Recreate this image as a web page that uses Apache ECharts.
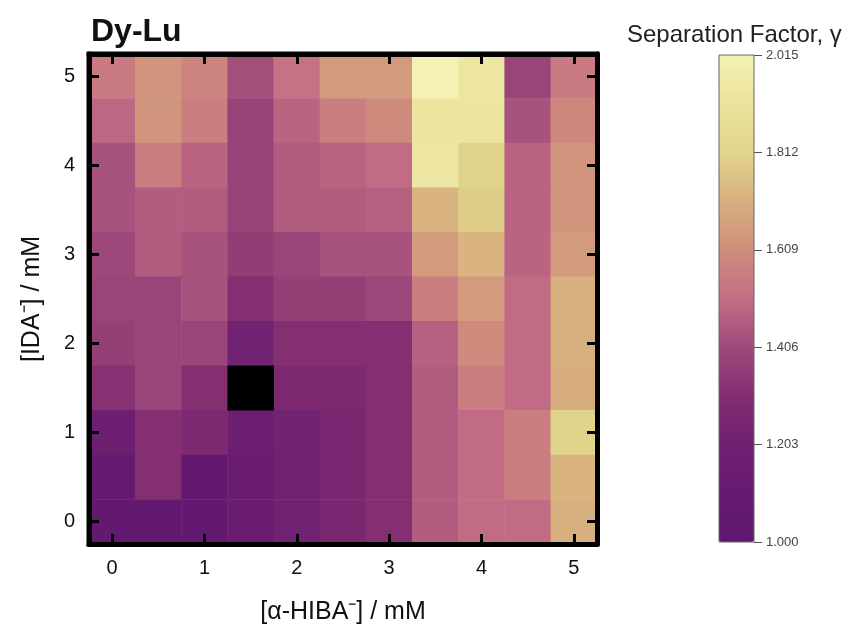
<!DOCTYPE html>
<html>
<head>
<meta charset="utf-8">
<script src="https://cdn.jsdelivr.net/npm/echarts@6/dist/echarts.min.js"></script>
<style>html,body{margin:0;padding:0;background:#fff;}#c{width:853px;height:634px;}</style>
</head>
<body>
<div id="c"></div>
<script>
// [α-HIBA-] concentrations (columns) and [IDA-] concentrations (rows), mM
const xCats = ['0','0.5','1','1.5','2','2.5','3','3.5','4','4.5','5'];
const yCats = ['0','0.5','1','1.5','2','2.5','3','3.5','4','4.5','5'];
// Separation factor rows, listed from [IDA-] = 5 (top) down to 0 (bottom); null = no value (black cell)
const row5_0 = [1.55, 1.63, 1.58, 1.42, 1.52, 1.65, 1.65, 2.01, 1.94, 1.39, 1.55];
const row4_5 = [1.49, 1.63, 1.56, 1.38, 1.48, 1.56, 1.60, 1.93, 1.93, 1.43, 1.59];
const row4_0 = [1.43, 1.56, 1.48, 1.38, 1.46, 1.48, 1.50, 1.94, 1.81, 1.48, 1.63];
const row3_5 = [1.43, 1.46, 1.46, 1.38, 1.46, 1.46, 1.47, 1.72, 1.79, 1.48, 1.63];
const row3_0 = [1.40, 1.46, 1.43, 1.36, 1.39, 1.43, 1.43, 1.65, 1.72, 1.48, 1.65];
const row2_5 = [1.39, 1.39, 1.43, 1.31, 1.37, 1.37, 1.40, 1.56, 1.65, 1.50, 1.71];
const row2_0 = [1.37, 1.39, 1.39, 1.22, 1.31, 1.31, 1.31, 1.47, 1.60, 1.50, 1.71];
const row1_5 = [1.32, 1.39, 1.31, null, 1.27, 1.27, 1.31, 1.46, 1.56, 1.50, 1.70];
const row1_0 = [1.18, 1.31, 1.27, 1.17, 1.22, 1.26, 1.31, 1.46, 1.50, 1.56, 1.81];
const row0_5 = [1.09, 1.31, 1.05, 1.14, 1.22, 1.26, 1.31, 1.46, 1.50, 1.56, 1.72];
const row0_0 = [1.06, 1.06, 1.05, 1.14, 1.22, 1.26, 1.31, 1.46, 1.50, 1.50, 1.71];
// Colour bar scale
const scaleMin = 1.000;
const scaleMax = 2.015;
const scaleStep = 0.203;
const palette = ['#5f1870','#671a71','#6f2072','#822d72','#9e4a7a','#c46e85',
                 '#cf8d7b','#d8b07f','#e0d48b','#eae29c','#f5f2b5'];

const rowsTopDown = [row5_0,row4_5,row4_0,row3_5,row3_0,row2_5,row2_0,row1_5,row1_0,row0_5,row0_0];
const data = [];
const missing = [];
rowsTopDown.forEach((row, r) => {
  const yi = yCats.length - 1 - r;
  row.forEach((v, xi) => {
    if (v === null) missing.push([xi, yi, 0]);
    else data.push([xi, yi, v]);
  });
});

const FONT = 'Liberation Sans, Arial, sans-serif';
const everyOther = (i) => i % 2 === 0;
const tickStyle = {show:true, inside:true, alignWithLabel:true, interval: everyOther, length:10, lineStyle:{color:'#000', width:3}};
const lineStyle = {show:true, lineStyle:{color:'#000', width:5}};

const chart = echarts.init(document.getElementById('c'), null, {renderer:'canvas'});
chart.setOption({
  animation:false,
  backgroundColor:'#fff',
  title:[
    {text:'Dy-Lu', left:86, top:11, textStyle:{fontFamily:FONT, fontSize:32, fontWeight:'bold', color:'#111'}},
    {text:'Separation Factor, γ', left:622, top:18, textStyle:{fontFamily:FONT, fontSize:24, fontWeight:'normal', color:'#222'}}
  ],
  grid:[
    {left:89, top:54, width:508, height:490, show:true, borderColor:'#000', borderWidth:5, backgroundColor:'transparent'},
    {left:719, top:55, width:35, height:487, show:true, borderColor:'#666', borderWidth:1, backgroundColor:'transparent', z:10}
  ],
  xAxis:[
    {type:'category', gridIndex:0, data:xCats, position:'bottom', z:10,
     name:'[α-HIBA⁻] / mM', nameLocation:'middle', nameGap:56,
     nameTextStyle:{fontFamily:FONT, fontSize:25, color:'#111'},
     axisLine:lineStyle, axisTick:tickStyle,
     axisLabel:{interval:everyOther, margin:14, fontFamily:FONT, fontSize:20, color:'#111'},
     splitLine:{show:false}},
    {type:'category', gridIndex:0, data:xCats, position:'top', z:10,
     axisLine:lineStyle, axisTick:tickStyle, axisLabel:{show:false}, splitLine:{show:false}},
    {type:'category', gridIndex:1, data:['γ'], show:false}
  ],
  yAxis:[
    {type:'category', gridIndex:0, data:yCats, position:'left', z:10,
     name:'[IDA⁻] / mM', nameLocation:'middle', nameGap:44, nameRotate:90,
     nameTextStyle:{fontFamily:FONT, fontSize:25, color:'#111'},
     axisLine:lineStyle, axisTick:tickStyle,
     axisLabel:{interval:everyOther, margin:14, fontFamily:FONT, fontSize:20, color:'#111'},
     splitLine:{show:false}},
    {type:'category', gridIndex:0, data:yCats, position:'right', z:10,
     axisLine:lineStyle, axisTick:tickStyle, axisLabel:{show:false}, splitLine:{show:false}},
    {type:'value', gridIndex:1, position:'right', min:0, max:+(scaleMax-scaleMin).toFixed(3), interval:scaleStep, z:10,
     axisLine:{show:false}, splitLine:{show:false},
     axisTick:{show:true, inside:false, length:8, lineStyle:{color:'#555', width:1}},
     axisLabel:{margin:12, fontFamily:FONT, fontSize:13, color:'#444', formatter:(v)=>(v+scaleMin).toFixed(3)}}
  ],
  visualMap:{
    type:'continuous', min:scaleMin, max:scaleMax, seriesIndex:0, calculable:false,
    left:719, top:55, itemWidth:35, itemHeight:487, padding:0, text:['',''], showLabel:false,
    inRange:{color:palette}
  },
  series:[
    {type:'heatmap', xAxisIndex:0, yAxisIndex:0, data:data, itemStyle:{borderWidth:0},
     emphasis:{disabled:true}},
    {type:'heatmap', xAxisIndex:0, yAxisIndex:0, data:missing, itemStyle:{color:'#000', borderWidth:0},
     emphasis:{disabled:true}}
  ]
});
</script>
</body>
</html>
